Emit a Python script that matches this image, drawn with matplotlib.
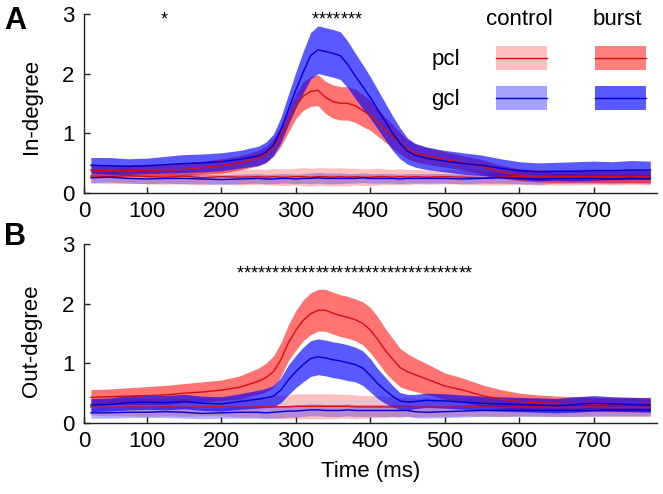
import matplotlib
matplotlib.use("Agg")
import matplotlib.pyplot as plt
from matplotlib.patches import Rectangle
from matplotlib.lines import Line2D
import numpy as np

plt.rcParams['font.family'] = ['Liberation Sans', 'DejaVu Sans']

# ---------------- data ----------------
t = [25, 50, 75, 100, 125, 150, 175, 200, 225, 250, 260, 270, 280, 290, 300, 310,
     320, 330, 340, 350, 360, 370, 380, 390, 400, 410, 420, 430, 440, 450, 460,
     475, 500, 525, 550, 575, 600, 625, 650, 675, 700, 725, 750, 776]

# Panel A (In-degree)
A_gcl_burst = [0.46, 0.45, 0.44, 0.45, 0.47, 0.49, 0.50, 0.52, 0.56, 0.62, 0.68, 0.80,
               1.05, 1.39, 1.72, 2.02, 2.30, 2.40, 2.37, 2.34, 2.30, 2.15, 1.96, 1.78,
               1.60, 1.40, 1.20, 1.00, 0.83, 0.70, 0.63, 0.58, 0.53, 0.49, 0.46, 0.41,
               0.37, 0.35, 0.36, 0.36, 0.37, 0.37, 0.38, 0.38]
A_gcl_burst_sd = [0.13, 0.14, 0.13, 0.13, 0.14, 0.15, 0.15, 0.15, 0.15, 0.16, 0.17, 0.18,
                  0.21, 0.25, 0.30, 0.35, 0.39, 0.40, 0.40, 0.40, 0.40, 0.39, 0.38, 0.37,
                  0.35, 0.33, 0.31, 0.29, 0.26, 0.22, 0.20, 0.19, 0.18, 0.18, 0.17, 0.16,
                  0.15, 0.15, 0.15, 0.16, 0.16, 0.15, 0.16, 0.15]
A_pcl_burst = [0.38, 0.37, 0.37, 0.38, 0.38, 0.39, 0.42, 0.45, 0.50, 0.58, 0.64, 0.76,
               0.95, 1.20, 1.45, 1.62, 1.70, 1.72, 1.60, 1.53, 1.50, 1.50, 1.46, 1.38,
               1.30, 1.18, 1.06, 0.95, 0.83, 0.73, 0.67, 0.62, 0.56, 0.50, 0.44, 0.35,
               0.30, 0.28, 0.27, 0.27, 0.27, 0.27, 0.27, 0.27]
A_pcl_burst_sd = [0.10, 0.10, 0.10, 0.10, 0.10, 0.11, 0.11, 0.12, 0.12, 0.13, 0.14, 0.15,
                  0.17, 0.19, 0.21, 0.24, 0.25, 0.26, 0.27, 0.28, 0.28, 0.28, 0.28, 0.27,
                  0.25, 0.23, 0.21, 0.20, 0.18, 0.16, 0.15, 0.14, 0.13, 0.12, 0.12, 0.11,
                  0.10, 0.10, 0.10, 0.10, 0.10, 0.10, 0.10, 0.10]
A_pcl_ctrl = [0.28, 0.27, 0.29, 0.27, 0.26, 0.28, 0.25, 0.27, 0.26, 0.27, 0.26, 0.27,
              0.26, 0.26, 0.27, 0.27, 0.26, 0.27, 0.27, 0.26, 0.27, 0.26, 0.27, 0.26,
              0.26, 0.27, 0.27, 0.26, 0.27, 0.26, 0.27, 0.26, 0.27, 0.26, 0.25, 0.26,
              0.27, 0.26, 0.25, 0.26, 0.27, 0.26, 0.27, 0.26]
A_pcl_ctrl_sd = [0.12, 0.12, 0.13, 0.12, 0.12, 0.13, 0.12, 0.12, 0.13, 0.13, 0.13, 0.14,
                 0.14, 0.14, 0.14, 0.15, 0.15, 0.15, 0.15, 0.15, 0.15, 0.15, 0.14, 0.14,
                 0.14, 0.14, 0.13, 0.13, 0.13, 0.13, 0.12, 0.12, 0.12, 0.12, 0.12, 0.13,
                 0.13, 0.13, 0.12, 0.13, 0.13, 0.13, 0.13, 0.13]
A_gcl_ctrl = [0.25, 0.26, 0.24, 0.23, 0.24, 0.24, 0.23, 0.22, 0.23, 0.24, 0.23, 0.23,
              0.24, 0.24, 0.23, 0.24, 0.24, 0.25, 0.24, 0.24, 0.24, 0.24, 0.24, 0.25,
              0.24, 0.24, 0.24, 0.24, 0.23, 0.24, 0.24, 0.24, 0.24, 0.23, 0.24, 0.25,
              0.24, 0.23, 0.24, 0.24, 0.24, 0.23, 0.24, 0.23]
A_gcl_ctrl_sd = [0.08, 0.08, 0.08, 0.08, 0.08, 0.09, 0.08, 0.08, 0.08, 0.08, 0.08, 0.08,
                 0.08, 0.08, 0.08, 0.08, 0.09, 0.09, 0.09, 0.09, 0.09, 0.08, 0.08, 0.08,
                 0.08, 0.08, 0.08, 0.08, 0.08, 0.08, 0.08, 0.08, 0.08, 0.08, 0.08, 0.09,
                 0.09, 0.09, 0.08, 0.08, 0.08, 0.08, 0.08, 0.08]

# Panel B (Out-degree)
B_pcl_burst = [0.43, 0.44, 0.45, 0.46, 0.47, 0.50, 0.52, 0.55, 0.60, 0.70, 0.76, 0.86,
               1.06, 1.34, 1.55, 1.72, 1.83, 1.89, 1.89, 1.84, 1.80, 1.77, 1.73, 1.67,
               1.56, 1.40, 1.22, 1.07, 0.93, 0.86, 0.81, 0.74, 0.62, 0.55, 0.46, 0.40,
               0.36, 0.34, 0.33, 0.32, 0.32, 0.31, 0.31, 0.31]
B_pcl_burst_sd = [0.13, 0.13, 0.14, 0.15, 0.16, 0.16, 0.17, 0.17, 0.19, 0.22, 0.24, 0.26,
                  0.28, 0.30, 0.33, 0.34, 0.35, 0.35, 0.35, 0.35, 0.35, 0.35, 0.35, 0.36,
                  0.38, 0.38, 0.37, 0.35, 0.32, 0.30, 0.28, 0.26, 0.22, 0.20, 0.18, 0.16,
                  0.14, 0.13, 0.12, 0.12, 0.12, 0.12, 0.12, 0.12]
B_gcl_burst = [0.30, 0.31, 0.34, 0.35, 0.34, 0.36, 0.33, 0.32, 0.36, 0.40, 0.42, 0.45,
               0.55, 0.72, 0.86, 0.98, 1.08, 1.11, 1.09, 1.06, 1.04, 1.01, 0.98, 0.92,
               0.80, 0.66, 0.55, 0.45, 0.37, 0.35, 0.36, 0.38, 0.37, 0.35, 0.33, 0.32,
               0.31, 0.30, 0.29, 0.31, 0.33, 0.32, 0.31, 0.30]
B_gcl_burst_sd = [0.11, 0.11, 0.12, 0.12, 0.12, 0.12, 0.12, 0.12, 0.13, 0.15, 0.16, 0.18,
                  0.21, 0.25, 0.27, 0.29, 0.30, 0.30, 0.30, 0.30, 0.30, 0.30, 0.29, 0.29,
                  0.28, 0.25, 0.22, 0.18, 0.14, 0.13, 0.12, 0.12, 0.12, 0.12, 0.12, 0.12,
                  0.12, 0.12, 0.12, 0.13, 0.13, 0.12, 0.12, 0.12]
B_pcl_ctrl = [0.27, 0.26, 0.27, 0.26, 0.27, 0.26, 0.27, 0.27, 0.26, 0.27, 0.27, 0.27,
              0.27, 0.27, 0.28, 0.28, 0.28, 0.28, 0.28, 0.28, 0.28, 0.28, 0.27, 0.27,
              0.27, 0.27, 0.27, 0.27, 0.26, 0.27, 0.26, 0.27, 0.26, 0.27, 0.27, 0.26,
              0.27, 0.27, 0.26, 0.26, 0.27, 0.26, 0.26, 0.26]
B_pcl_ctrl_sd = [0.14, 0.14, 0.15, 0.15, 0.15, 0.15, 0.15, 0.15, 0.16, 0.17, 0.18, 0.19,
                 0.20, 0.20, 0.21, 0.21, 0.21, 0.21, 0.21, 0.21, 0.20, 0.20, 0.20, 0.19,
                 0.19, 0.18, 0.18, 0.17, 0.17, 0.16, 0.16, 0.16, 0.15, 0.15, 0.15, 0.15,
                 0.15, 0.15, 0.15, 0.15, 0.15, 0.15, 0.15, 0.15]
B_gcl_ctrl = [0.17, 0.17, 0.18, 0.18, 0.19, 0.18, 0.16, 0.17, 0.18, 0.18, 0.17, 0.18,
              0.19, 0.20, 0.20, 0.21, 0.22, 0.22, 0.21, 0.21, 0.21, 0.22, 0.21, 0.21,
              0.21, 0.21, 0.21, 0.21, 0.21, 0.21, 0.19, 0.18, 0.19, 0.20, 0.21, 0.21,
              0.21, 0.21, 0.21, 0.21, 0.21, 0.22, 0.22, 0.22]
B_gcl_ctrl_sd = [0.09, 0.09, 0.09, 0.09, 0.10, 0.10, 0.09, 0.09, 0.10, 0.10, 0.10, 0.10,
                 0.10, 0.10, 0.10, 0.10, 0.10, 0.10, 0.10, 0.10, 0.10, 0.10, 0.10, 0.10,
                 0.10, 0.10, 0.10, 0.10, 0.10, 0.10, 0.10, 0.10, 0.10, 0.10, 0.10, 0.10,
                 0.10, 0.10, 0.10, 0.10, 0.10, 0.10, 0.10, 0.10]

# significance markers (time bins, ms)
sig_A = [123, 326, 336, 345, 355, 365, 374, 384]
sig_B = [225, 235, 244, 254, 263, 273, 283, 292, 302, 311, 321, 331, 340, 350, 359, 369,
         379, 388, 398, 407, 417, 427, 436, 446, 455, 465, 475, 484, 494, 503, 513, 523, 532]

xtick_pos = [15.8, 100, 200, 300, 400, 500, 600, 700]
xtick_lab = ['0', '100', '200', '300', '400', '500', '600', '700']
ytick_pos = [0, 1, 2, 3]
ytick_lab = ['0', '1', '2', '3']

# ---------------- styling ----------------
W, H = 663, 494
FS = 16
red = (1.0, 0.0, 0.0)
blue = (0.0, 0.0, 1.0)
red_line = (0.85, 0.05, 0.05)
blue_line = (0.0, 0.0, 0.8)
a_ctrl_r, a_burst_r = 0.25, 0.55
a_ctrl_b, a_burst_b = 0.36, 0.65

fig = plt.figure(figsize=(W / 100, H / 100), dpi=100)


def px_axes(l, t_, r, b):
    return [l / W, 1 - b / H, (r - l) / W, (b - t_) / H]


axA = fig.add_axes(px_axes(84, 14, 657, 192.7))
axB = fig.add_axes(px_axes(84, 244, 657, 423))

tt = np.array(t, dtype=float)


def band(ax, m, s, color, alpha, lc):
    m = np.array(m)
    s = np.array(s)
    ax.fill_between(tt, m - s, m + s, color=color, alpha=alpha, lw=0)
    return m, lc


def draw(ax, series):
    lines = []
    for m, s, c, a, lc in series:
        lines.append(band(ax, m, s, c, a, lc))
    for m, lc in lines:
        ax.plot(tt, m, color=lc, lw=1.0)


draw(axA, [
    (A_pcl_ctrl, A_pcl_ctrl_sd, red, a_ctrl_r, red_line),
    (A_gcl_ctrl, A_gcl_ctrl_sd, blue, a_ctrl_b * 0.8, blue_line),
    (A_pcl_burst, A_pcl_burst_sd, red, a_burst_r, red_line),
    (A_gcl_burst, A_gcl_burst_sd, blue, a_burst_b, blue_line),
])
draw(axB, [
    (B_pcl_ctrl, B_pcl_ctrl_sd, red, a_ctrl_r, red_line),
    (B_gcl_ctrl, B_gcl_ctrl_sd, blue, a_ctrl_b * 0.8, blue_line),
    (B_pcl_burst, B_pcl_burst_sd, red, a_burst_r, red_line),
    (B_gcl_burst, B_gcl_burst_sd, blue, a_burst_b, blue_line),
])

for ax in (axA, axB):
    ax.set_xlim(15.8, 785)
    ax.set_ylim(0, 3)
    ax.spines['top'].set_visible(False)
    ax.spines['right'].set_visible(False)
    for sp in ('left', 'bottom'):
        ax.spines[sp].set_linewidth(1.0)
        ax.spines[sp].set_color('#222222')
    ax.set_xticks(xtick_pos)
    ax.set_xticklabels(xtick_lab)
    ax.set_yticks(ytick_pos)
    ax.set_yticklabels(ytick_lab)
    ax.tick_params(direction='in', length=4, width=1, labelsize=FS, color='#222222')
    ax.tick_params(axis='x', pad=6)
    ax.tick_params(axis='y', pad=7)

axA.set_ylabel('In-degree', fontsize=FS)
axB.set_ylabel('Out-degree', fontsize=FS)
axA.yaxis.set_label_coords(-0.073, 0.48)
axB.yaxis.set_label_coords(-0.073, 0.46)
axB.set_xlabel('Time (ms)', fontsize=FS, labelpad=6)

for x in sig_A:
    axA.text(x, 2.83, '*', fontsize=13, ha='center', va='baseline', clip_on=False)
for x in sig_B:
    axB.text(x, 2.43, '*', fontsize=13, ha='center', va='baseline', clip_on=False)


def fx(x):
    return x / W


def fy(y):
    return 1 - y / H


fig.text(fx(4), fy(6), 'A', fontsize=22, fontweight='bold', ha='left', va='top')
fig.text(fx(4), fy(222), 'B', fontsize=22, fontweight='bold', ha='left', va='top')

# legend
fig.text(fx(519), fy(25), 'control', fontsize=FS, ha='center', va='baseline')
fig.text(fx(617), fy(25), 'burst', fontsize=FS, ha='center', va='baseline')
fig.text(fx(460), fy(65), 'pcl', fontsize=FS, ha='right', va='baseline')
fig.text(fx(460), fy(105), 'gcl', fontsize=FS, ha='right', va='baseline')

leg = [
    (496, 46, red, a_ctrl_r, red_line),
    (595, 46, red, 0.5, red_line),
    (496, 86, blue, a_ctrl_b, blue_line),
    (595, 86, blue, a_burst_b, blue_line),
]
for x0, y0, c, a, lc in leg:
    fig.add_artist(Rectangle((fx(x0), fy(y0 + 24)), 51 / W, 24 / H,
                             transform=fig.transFigure, facecolor=c, alpha=a, lw=0))
    fig.add_artist(Line2D([fx(x0), fx(x0 + 51)], [fy(y0 + 12), fy(y0 + 12)],
                          transform=fig.transFigure, color=lc, lw=1.0))

fig.savefig('out.png', dpi=100)
